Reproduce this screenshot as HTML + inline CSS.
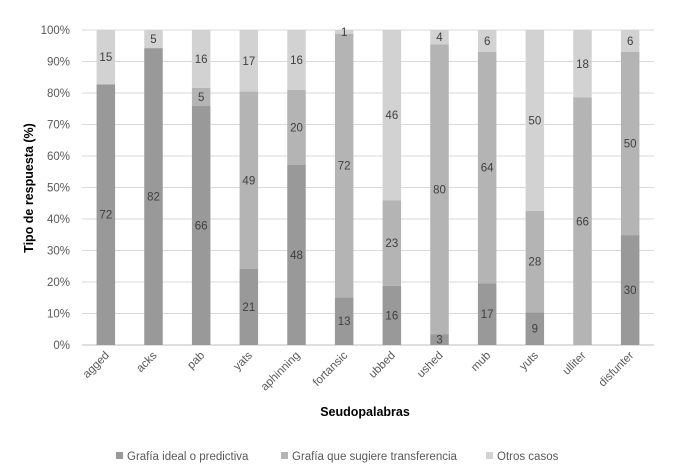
<!DOCTYPE html>
<html><head><meta charset="utf-8"><style>
html,body{margin:0;padding:0;background:#fff;}
svg{display:block;font-family:"Liberation Sans",sans-serif;}
</style></head><body>
<svg id="c" width="695" height="475"></svg>
<script>
const categories=["agged","acks","pab","yats","aphinning","fortansic","ubbed","ushed","mub","yuts","ulliter","disfunter"];
const ideal=[72,82,66,21,48,13,16,3,17,9,0,30];
const transfer=[0,0,5,49,20,72,23,80,64,28,66,50];
const otros=[15,5,16,17,16,1,46,4,6,50,18,6];
const yTicks=[0,10,20,30,40,50,60,70,80,90,100];
const seriesNames=["Grafía ideal o predictiva","Grafía que sugiere transferencia","Otros casos"];
const colors=["#999999","#b4b4b4","#d2d2d2"];
const NS="http://www.w3.org/2000/svg";
const svg=document.getElementById('c');
const L=82,R=654,T=30,B=345;
const step=(R-L)/categories.length, bw=18.5;
const y=v=>B-(B-T)*v/100;
const xc=i=>L+step*(i+0.5);
function mk(t,a,p){const e=document.createElementNS(NS,t);for(const k in a)e.setAttribute(k,a[k]);(p||svg).appendChild(e);return e;}
yTicks.forEach(v=>{
 const g=mk('line',{x1:L,x2:R,y1:y(v),y2:y(v),stroke:v===0?'#bfbfbf':'#d9d9d9','stroke-width':1});
 
 
 const t=mk('text',{x:70,y:y(v)+4,'text-anchor':'end','font-size':11.5,fill:'#595959'});
 t.textContent=v+'%';
 
 
});
const series=[ideal,transfer,otros];
categories.forEach((c,i)=>{
 const tot=ideal[i]+transfer[i]+otros[i];
 let acc=0;
 series.forEach((s,k)=>{
  const v=s[i];if(!v)return;
  const p=v/tot*100;
  const r=mk('rect',{x:xc(i)-bw/2,y:y(acc+p),width:bw,height:y(acc)-y(acc+p),fill:colors[k]});
  
  
  const t=mk('text',{x:xc(i),y:y(acc+p/2)+4,'text-anchor':'middle','font-size':11.5,fill:'#404040'});
  t.textContent=v;
  
  
  acc+=p;
 });
 const t=mk('text',{x:xc(i)+4,y:356,'text-anchor':'end','font-size':11.5,fill:'#595959',transform:`rotate(-45 ${xc(i)+4} 356)`});
 t.textContent=c;
 
 
});
const yt=mk('text',{x:0,y:0,'text-anchor':'middle','font-size':12.5,'font-weight':'bold',fill:'#000',transform:'translate(33 188) rotate(-90)'});
yt.textContent='Tipo de respuesta (%)';


const xt=mk('text',{x:365,y:416,'text-anchor':'middle','font-size':12.5,'font-weight':'bold',fill:'#000'});
xt.textContent='Seudopalabras';


const lx=[116,281,486];
seriesNames.forEach((n,k)=>{
 const r=mk('rect',{x:lx[k],y:452,width:7,height:7,fill:colors[k]});
 
 
 const t=mk('text',{x:lx[k]+11,y:460,'font-size':11.5,fill:'#595959'});
 t.textContent=n;
 
 
});
</script>
</body></html>
